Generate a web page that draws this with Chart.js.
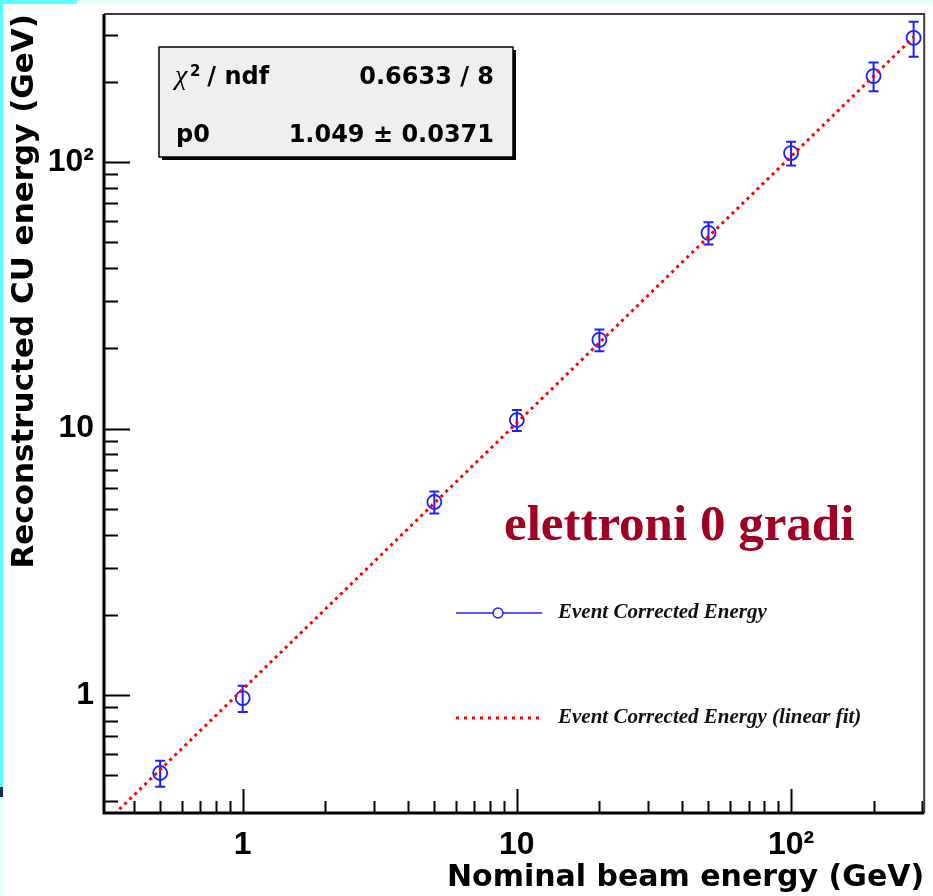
<!DOCTYPE html>
<html>
<head>
<meta charset="utf-8">
<title>Reconstructed CU energy</title>
<script src="https://cdn.jsdelivr.net/npm/chart.js@4.4.1/dist/chart.umd.min.js"></script>
<style>
	html, body { margin: 0; padding: 0; background: #fff; }
	#wrap { position: relative; width: 933px; height: 896px; overflow: hidden; }
	canvas { position: absolute; left: 0; top: 0; }
	.strip { position: absolute; pointer-events: none; }
</style>
</head>
<body>
<div id="wrap">
	<canvas id="chart" width="933" height="896"></canvas>
	<div class="strip" style="left:0;top:0;width:933px;height:4px;background:#e6ffff"></div>
	<div class="strip" style="left:0;top:0;width:77px;height:4px;background:#5cffff"></div>
	<div class="strip" style="left:0;top:0;width:3px;height:787px;background:#5cffff"></div>
	<div class="strip" style="left:0;top:787px;width:3px;height:10px;background:#0b2d5e"></div>
	<div class="strip" style="left:0;top:797px;width:3px;height:99px;background:#e6ffff"></div>
</div>
<script>
// beam energies (GeV) and the reconstructed energy with its error
const beamEnergy = [0.5, 1, 5, 10, 20, 50, 100, 200, 280];
const recoEnergy = [0.51, 0.974, 5.3, 10.76, 21.5, 54.2, 108, 210, 292];
const recoError = [0.057, 0.11, 0.5, 0.97, 2.0, 5.2, 11, 26, 44];

// linear fit y = p0 * x, end points
const fitX = [0.3, 280];
const fitY = [0.315, 293.7];

const xTickValues = [1, 10, 100];
const xTickLabels = ["1", "10", "10²"];
const yTickValues = [1, 10, 100];
const yTickLabels = ["1", "10", "10²"];

const statNames = ["χ", "p0"];
const statValues = ["0.6633 / 8", "1.049 ± 0.0371"];
const legendLabels = ["Event Corrected Energy", "Event Corrected Energy (linear fit)"];
const noteText = "elettroni 0 gradi";

const BLUE = "#1f1fff";
const RED = "#ff0000";
const SANS = "'DejaVu Sans'";
const TICK_FONT = { family: "'Liberation Sans', Arial", size: 32, weight: "bold" };

function errorBars(chart) {
	const ctx = chart.ctx;
	const xs = chart.scales.x;
	const ys = chart.scales.y;
	ctx.save();
	ctx.strokeStyle = BLUE;
	ctx.lineWidth = 2;
	beamEnergy.forEach((e, i) => {
		const px = xs.getPixelForValue(e);
		const top = ys.getPixelForValue(recoEnergy[i] + recoError[i]);
		const bot = ys.getPixelForValue(recoEnergy[i] - recoError[i]);
		ctx.beginPath();
		ctx.moveTo(px, top);
		ctx.lineTo(px, bot);
		ctx.moveTo(px - 5, top);
		ctx.lineTo(px + 5, top);
		ctx.moveTo(px - 5, bot);
		ctx.lineTo(px + 5, bot);
		ctx.stroke();
	});
	ctx.restore();
}

function logTicks(min, max) {
	let out = [];
	for (let d = -2; d <= 3; d++) {
		for (let k = 1; k <= 9; k++) {
			const v = k * Math.pow(10, d);
			if (v >= min && v <= max) {
				out.push({ v, major: k === 1 });
			}
		}
	}
	return out;
}

function frameAndTicks(chart) {
	const ctx = chart.ctx;
	const a = chart.chartArea;
	const xs = chart.scales.x;
	const ys = chart.scales.y;
	ctx.save();
	ctx.strokeStyle = "#000";
	ctx.lineWidth = 2;
	logTicks(xs.min, xs.max).forEach((t) => {
		const px = Math.round(xs.getPixelForValue(t.v)) + 0.5;
		ctx.beginPath();
		ctx.moveTo(px, a.bottom);
		ctx.lineTo(px, a.bottom - (t.major ? 24 : 12));
		ctx.stroke();
	});
	logTicks(ys.min, ys.max).forEach((t) => {
		const py = Math.round(ys.getPixelForValue(t.v)) + 0.5;
		ctx.beginPath();
		ctx.moveTo(a.left, py);
		ctx.lineTo(a.left + (t.major ? 26 : 14), py);
		ctx.stroke();
	});
	// top / right border
	ctx.strokeStyle = "#3d3d3d";
	ctx.lineWidth = 2;
	ctx.beginPath();
	ctx.moveTo(a.left, a.top);
	ctx.lineTo(a.right, a.top);
	ctx.lineTo(a.right, a.bottom);
	ctx.stroke();
	// axes
	ctx.strokeStyle = "#000";
	ctx.lineWidth = 3;
	ctx.beginPath();
	ctx.moveTo(a.left, a.top);
	ctx.lineTo(a.left, a.bottom);
	ctx.lineTo(a.right, a.bottom);
	ctx.stroke();
	ctx.restore();
}

function statsBox(ctx) {
	ctx.save();
	ctx.fillStyle = "#000";
	ctx.fillRect(162, 50, 354, 110);
	ctx.fillStyle = "#efefef";
	ctx.fillRect(159, 47, 354, 110);
	ctx.strokeStyle = "#000";
	ctx.lineWidth = 1.5;
	ctx.strokeRect(159, 47, 354, 110);

	ctx.fillStyle = "#000";
	ctx.textBaseline = "alphabetic";
	ctx.textAlign = "left";
	ctx.font = "italic 28px 'Liberation Serif'";
	ctx.fillText(statNames[0], 175, 84);
	ctx.font = "bold 15px " + SANS;
	ctx.fillText("2", 190, 76);
	ctx.font = "bold 24px " + SANS;
	ctx.fillText(" / ndf", 199, 84);
	ctx.fillText(statNames[1], 176, 142);
	ctx.textAlign = "right";
	ctx.fillText(statValues[0], 494, 84);
	ctx.fillText(statValues[1], 494, 142);
	ctx.restore();
}

function legendAndNote(ctx) {
	ctx.save();
	ctx.strokeStyle = BLUE;
	ctx.lineWidth = 1.5;
	ctx.beginPath();
	ctx.moveTo(456, 613);
	ctx.lineTo(493, 613);
	ctx.moveTo(503, 613);
	ctx.lineTo(542, 613);
	ctx.stroke();
	ctx.beginPath();
	ctx.arc(498, 613, 5, 0, Math.PI * 2);
	ctx.stroke();

	ctx.strokeStyle = RED;
	ctx.lineWidth = 3;
	ctx.setLineDash([3, 5]);
	ctx.beginPath();
	ctx.moveTo(456, 718);
	ctx.lineTo(542, 718);
	ctx.stroke();
	ctx.setLineDash([]);

	ctx.fillStyle = "#111";
	ctx.textAlign = "left";
	ctx.textBaseline = "alphabetic";
	ctx.font = "italic bold 21px 'Liberation Serif'";
	ctx.fillText(legendLabels[0], 558, 618);
	ctx.fillText(legendLabels[1], 558, 723);

	ctx.fillStyle = "#a00024";
	ctx.font = "bold 51px 'Liberation Serif'";
	ctx.fillText(noteText, 504, 540);
	ctx.restore();
}

const rootStyle = {
	id: "rootStyle",
	beforeDatasetsDraw(chart) {
		errorBars(chart);
	},
	afterDraw(chart) {
		frameAndTicks(chart);
		statsBox(chart.ctx);
		legendAndNote(chart.ctx);
	}
};

new Chart(document.getElementById("chart"), {
	type: "scatter",
	data: {
		datasets: [
			{
				type: "line",
				label: legendLabels[1],
				data: fitX.map((x, i) => ({ x, y: fitY[i] })),
				borderColor: RED,
				borderWidth: 3,
				borderDash: [3, 4],
				pointRadius: 0,
				fill: false
			},
			{
				label: legendLabels[0],
				data: beamEnergy.map((x, i) => ({ x, y: recoEnergy[i] })),
				showLine: false,
				pointStyle: "circle",
				pointRadius: 7,
				pointBorderWidth: 1.8,
				borderColor: BLUE,
				backgroundColor: "rgba(0,0,0,0)"
			}
		]
	},
	options: {
		responsive: false,
		animation: false,
		devicePixelRatio: 1,
		layout: { padding: { top: 14, right: 2, left: 0, bottom: 0 } },
		plugins: {
			legend: { display: false },
			tooltip: { enabled: false }
		},
		scales: {
			x: {
				type: "logarithmic",
				bounds: "data",
				min: 0.312,
				max: 306,
				grid: { display: false, drawTicks: false },
				border: { display: false },
				afterBuildTicks: (s) => { s.ticks = xTickValues.map((v) => ({ value: v })); },
				afterFit: (s) => {
					s.height = 83;
					s.paddingLeft = 0;
					s.paddingRight = 0;
				},
				ticks: {
					autoSkip: false,
					maxRotation: 0,
					padding: 13,
					color: "#000",
					font: TICK_FONT,
					callback: (v, i) => xTickLabels[i]
				},
				title: {
					display: true,
					text: "Nominal beam energy (GeV)",
					align: "end",
					color: "#000",
					font: { family: SANS, size: 30, weight: "bold" },
					padding: { top: 0, bottom: 0 }
				}
			},
			y: {
				type: "logarithmic",
				bounds: "data",
				min: 0.361,
				max: 359,
				grid: { display: false, drawTicks: false },
				border: { display: false },
				afterBuildTicks: (s) => { s.ticks = yTickValues.map((v) => ({ value: v })); },
				afterFit: (s) => {
					s.width = 104;
					s.paddingTop = 0;
					s.paddingBottom = 0;
				},
				ticks: {
					autoSkip: false,
					padding: 10,
					color: "#000",
					font: TICK_FONT,
					callback: (v, i) => yTickLabels[i]
				},
				title: {
					display: true,
					text: "Reconstructed CU energy (GeV)",
					align: "end",
					color: "#000",
					font: { family: SANS, size: 31, weight: "bold" },
					padding: { top: 6, bottom: 0 }
				}
			}
		}
	},
	plugins: [rootStyle]
});
</script>
</body>
</html>
